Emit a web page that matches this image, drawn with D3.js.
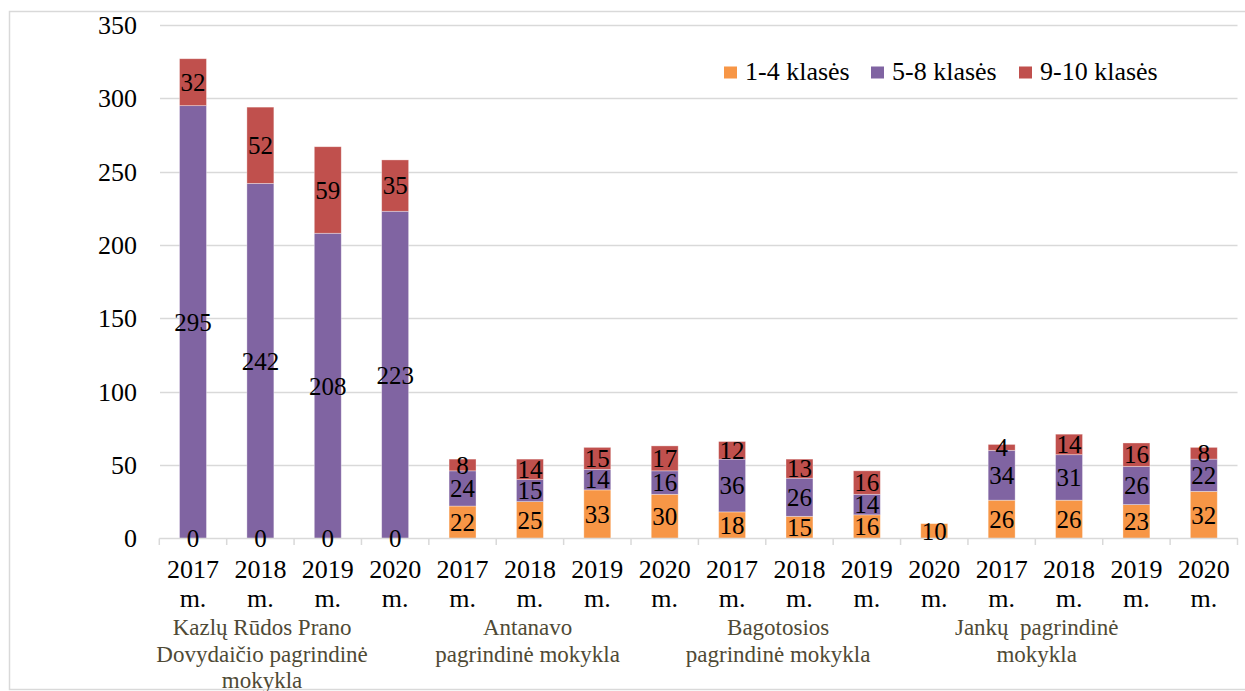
<!DOCTYPE html>
<html>
<head>
<meta charset="utf-8">
<script src="https://cdn.jsdelivr.net/npm/d3@7"></script>
<style>
  body { margin: 0; background: #fff; }
  text { font-family: "Liberation Serif", "Times New Roman", serif; }
</style>
</head>
<body>
<div id="chart"></div>
<script>
// Data
const schools = [
    ["Kazlų Rūdos Prano", "Dovydaičio pagrindinė", "mokykla"],
    ["Antanavo", "pagrindinė mokykla"],
    ["Bagotosios", "pagrindinė mokykla"],
    ["Jankų  pagrindinė", "mokykla"]
];
const years = ["2017", "2018", "2019", "2020"];
const seriesNames = ["1-4 klasės", "5-8 klasės", "9-10 klasės"];
const colors = ["#F79646", "#8064A2", "#C0504D"];

// one value per bar, schools in order, years inside
const grades1to4 = [0, 0, 0, 0, 22, 25, 33, 30, 18, 15, 16, 10, 26, 26, 23, 32];
const grades5to8 = [295, 242, 208, 223, 24, 15, 14, 16, 36, 26, 14, null, 34, 31, 26, 22];
const grades9to10 = [32, 52, 59, 35, 8, 14, 15, 17, 12, 13, 16, null, 4, 14, 16, 8];
const yTicks = [0, 50, 100, 150, 200, 250, 300, 350];

// label centre shift for each school group (Excel puts them left of centre)
const groupLabelShift = [-32, -36, -55, -66];

const W = 1245, H = 691;
const svg = d3.select("#chart").append("svg")
    .attr("width", W)
    .attr("height", H);

// outer chart border
svg.append("rect")
    .attr("x", 9.5).attr("y", 11.5)
    .attr("width", W).attr("height", 678)
    .attr("fill", "none")
    .attr("stroke", "#D9D9D9")
    .attr("stroke-width", 1.5);

const categories = d3.range(grades1to4.length);
const x = d3.scaleBand().domain(categories).range([159.3, 1237.5]);
const y = d3.scaleLinear().domain([0, 350]).range([538.3, 25]);
const barW = x.bandwidth() * 0.4;

// gridlines
svg.append("g")
    .selectAll("line")
    .data(yTicks.filter(d => d > 0))
    .join("line")
    .attr("x1", 160).attr("x2", 1237.5)
    .attr("y1", d => Math.round(y(d)) + 0.5)
    .attr("y2", d => Math.round(y(d)) + 0.5)
    .attr("stroke", "#D9D9D9")
    .attr("stroke-width", 1.5);

// y labels
svg.append("g")
    .selectAll("text")
    .data(yTicks)
    .join("text")
    .attr("x", 137)
    .attr("y", d => y(d))
    .attr("dy", "0.35em")
    .attr("text-anchor", "end")
    .attr("font-size", 26)
    .text(d => d);

// stack
const rows = categories.map(i => ({
    i: i,
    s0: grades1to4[i],
    s1: grades5to8[i],
    s2: grades9to10[i]
}));
const stack = d3.stack().keys(["s0", "s1", "s2"]).value((d, k) => d[k] || 0);
const layers = stack(rows);

const layerG = svg.append("g")
    .selectAll("g")
    .data(layers)
    .join("g")
    .attr("fill", (d, i) => colors[i]);

layerG.selectAll("rect")
    .data(d => d)
    .join("rect")
    .attr("x", d => x(d.data.i) + (x.bandwidth() - barW) / 2)
    .attr("y", d => y(d[1]))
    .attr("width", barW)
    .attr("height", d => y(d[0]) - y(d[1]))
    .attr("stroke", "rgba(255,255,255,0.45)")
    .attr("stroke-width", 0.75);

// x axis line and ticks
svg.append("line")
    .attr("x1", 159.3).attr("x2", 1238)
    .attr("y1", 538.5).attr("y2", 538.5)
    .attr("stroke", "#D9D9D9")
    .attr("stroke-width", 1.5);

const boundaries = categories.map(i => x(i)).concat([x.range()[1]]);
svg.append("g")
    .selectAll("line")
    .data(boundaries)
    .join("line")
    .attr("x1", d => d).attr("x2", d => d)
    .attr("y1", 538.5).attr("y2", 545)
    .attr("stroke", "#D9D9D9")
    .attr("stroke-width", 1.5);

// data labels
layers.forEach((layer, li) => {
    svg.append("g")
        .selectAll("text")
        .data(layer.filter(d => d.data["s" + li] !== null))
        .join("text")
        .attr("x", d => x(d.data.i) + x.bandwidth() / 2)
        .attr("y", d => y((d[0] + d[1]) / 2))
        .attr("dy", "0.35em")
        .attr("text-anchor", "middle")
        .attr("font-size", 25)
        .attr("fill", "#000")
        .text(d => d.data["s" + li]);
});

// year labels
const yearG = svg.append("g")
    .selectAll("text")
    .data(categories)
    .join("text")
    .attr("text-anchor", "middle")
    .attr("font-size", 26)
    .attr("fill", "#000");
yearG.append("tspan")
    .attr("x", i => x(i) + x.bandwidth() / 2)
    .attr("y", 578)
    .text(i => years[i % years.length]);
yearG.append("tspan")
    .attr("x", i => x(i) + x.bandwidth() / 2)
    .attr("y", 607)
    .text("m.");

// school group labels
schools.forEach((lines, g) => {
    const first = x(g * years.length);
    const last = x((g + 1) * years.length - 1) + x.bandwidth();
    const cx = (first + last) / 2 + groupLabelShift[g];
    const t = svg.append("text")
        .attr("text-anchor", "middle")
        .attr("font-size", 23)
        .attr("fill", "#4F4A35")
        .style("white-space", "pre");
    lines.forEach((line, k) => {
        t.append("tspan")
            .attr("x", cx)
            .attr("y", 635 + k * 26.5)
            .text(line);
    });
});

// legend
const legendX = [724, 871, 1019];
const legend = svg.append("g")
    .selectAll("g")
    .data(seriesNames)
    .join("g")
    .attr("transform", (d, i) => `translate(${legendX[i]},0)`);
legend.append("rect")
    .attr("x", 0).attr("y", 66.5)
    .attr("width", 13).attr("height", 12)
    .attr("fill", (d, i) => colors[i]);
legend.append("text")
    .attr("x", 21).attr("y", 79.5)
    .attr("font-size", 26)
    .text(d => d);
</script>
</body>
</html>
